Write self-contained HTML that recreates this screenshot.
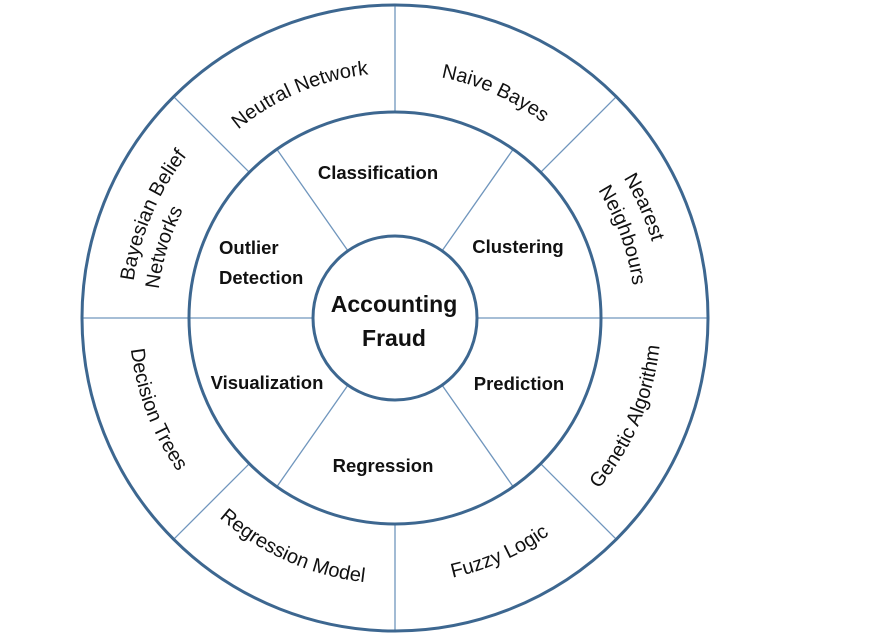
<!DOCTYPE html>
<html><head><meta charset="utf-8"><style>
html,body{margin:0;padding:0;background:#fff;}
svg{display:block;}
text{font-family:"Liberation Sans",sans-serif;fill:#111;}
</style></head><body>
<svg id="s" width="878" height="640" viewBox="0 0 878 640" xmlns="http://www.w3.org/2000/svg">
<g id="g"></g>
<text x="394" y="312" font-size="23" text-anchor="middle" style="font-weight:600">Accounting</text>
<text x="394" y="346" font-size="23" text-anchor="middle" style="font-weight:600">Fraud</text>
<g font-size="18.5" font-weight="bold" text-anchor="middle">
<text x="378" y="179">Classification</text>
<text x="518" y="253">Clustering</text>
<text x="219" y="254" text-anchor="start">Outlier</text>
<text x="219" y="284" text-anchor="start">Detection</text>
<text x="267" y="389">Visualization</text>
<text x="383" y="472">Regression</text>
<text x="519" y="390">Prediction</text>
</g>
</svg>
<script>
var cx=395,cy=318,R=313,M=206,I=82;
var ns="http://www.w3.org/2000/svg",g=document.getElementById('g');
function el(n,a){var e=document.createElementNS(ns,n);for(var k in a)e.setAttribute(k,a[k]);return e;}
function P(r,a){a=a*Math.PI/180;return [cx+r*Math.cos(a),cy-r*Math.sin(a)];}
[0,45,90,135,180,225,270,315].forEach(function(a){var p=P(M,a),q=P(R,a);g.appendChild(el('line',{x1:p[0],y1:p[1],x2:q[0],y2:q[1],stroke:'#7096bd','stroke-width':1.3}));});
[0,55,125,180,235,305].forEach(function(a){var p=P(I,a),q=P(M,a);g.appendChild(el('line',{x1:p[0],y1:p[1],x2:q[0],y2:q[1],stroke:'#7096bd','stroke-width':1.3}));});
[R,M,I].forEach(function(r){g.appendChild(el('circle',{cx:cx,cy:cy,r:r,fill:'none',stroke:'#3d6790','stroke-width':3}));});
var labels=[
["Neutral Network",113,245,1],["Naive Bayes",66,245,1],
["Nearest",24,268,1],["Neighbours",20,240,1],
["Bayesian Belief",157,264,1],["Networks",163,238,1],
["Decision Trees",201,266,0],["Regression Model",246,266,0],
["Fuzzy Logic",294,266,0],["Genetic Algorithm",337,266,0]];
var defs=el('defs',{});document.getElementById('s').insertBefore(defs,g);
labels.forEach(function(L,i){
 var a=L[1],r=L[2],cw=L[3],s,e,d;
 if(cw){s=P(r,a+50);e=P(r,a-50);d='M'+s[0]+','+s[1]+' A'+r+','+r+' 0 0 1 '+e[0]+','+e[1];}
 else{s=P(r,a-50);e=P(r,a+50);d='M'+s[0]+','+s[1]+' A'+r+','+r+' 0 0 0 '+e[0]+','+e[1];}
 defs.appendChild(el('path',{id:'p'+i,d:d}));
 var t=el('text',{'font-size':20,'text-anchor':'middle'});
 var tp=el('textPath',{href:'#p'+i,startOffset:'50%'});
 tp.setAttributeNS('http://www.w3.org/1999/xlink','xlink:href','#p'+i);
 tp.textContent=L[0];t.appendChild(tp);document.getElementById('s').appendChild(t);
});
</script>
</body></html>
